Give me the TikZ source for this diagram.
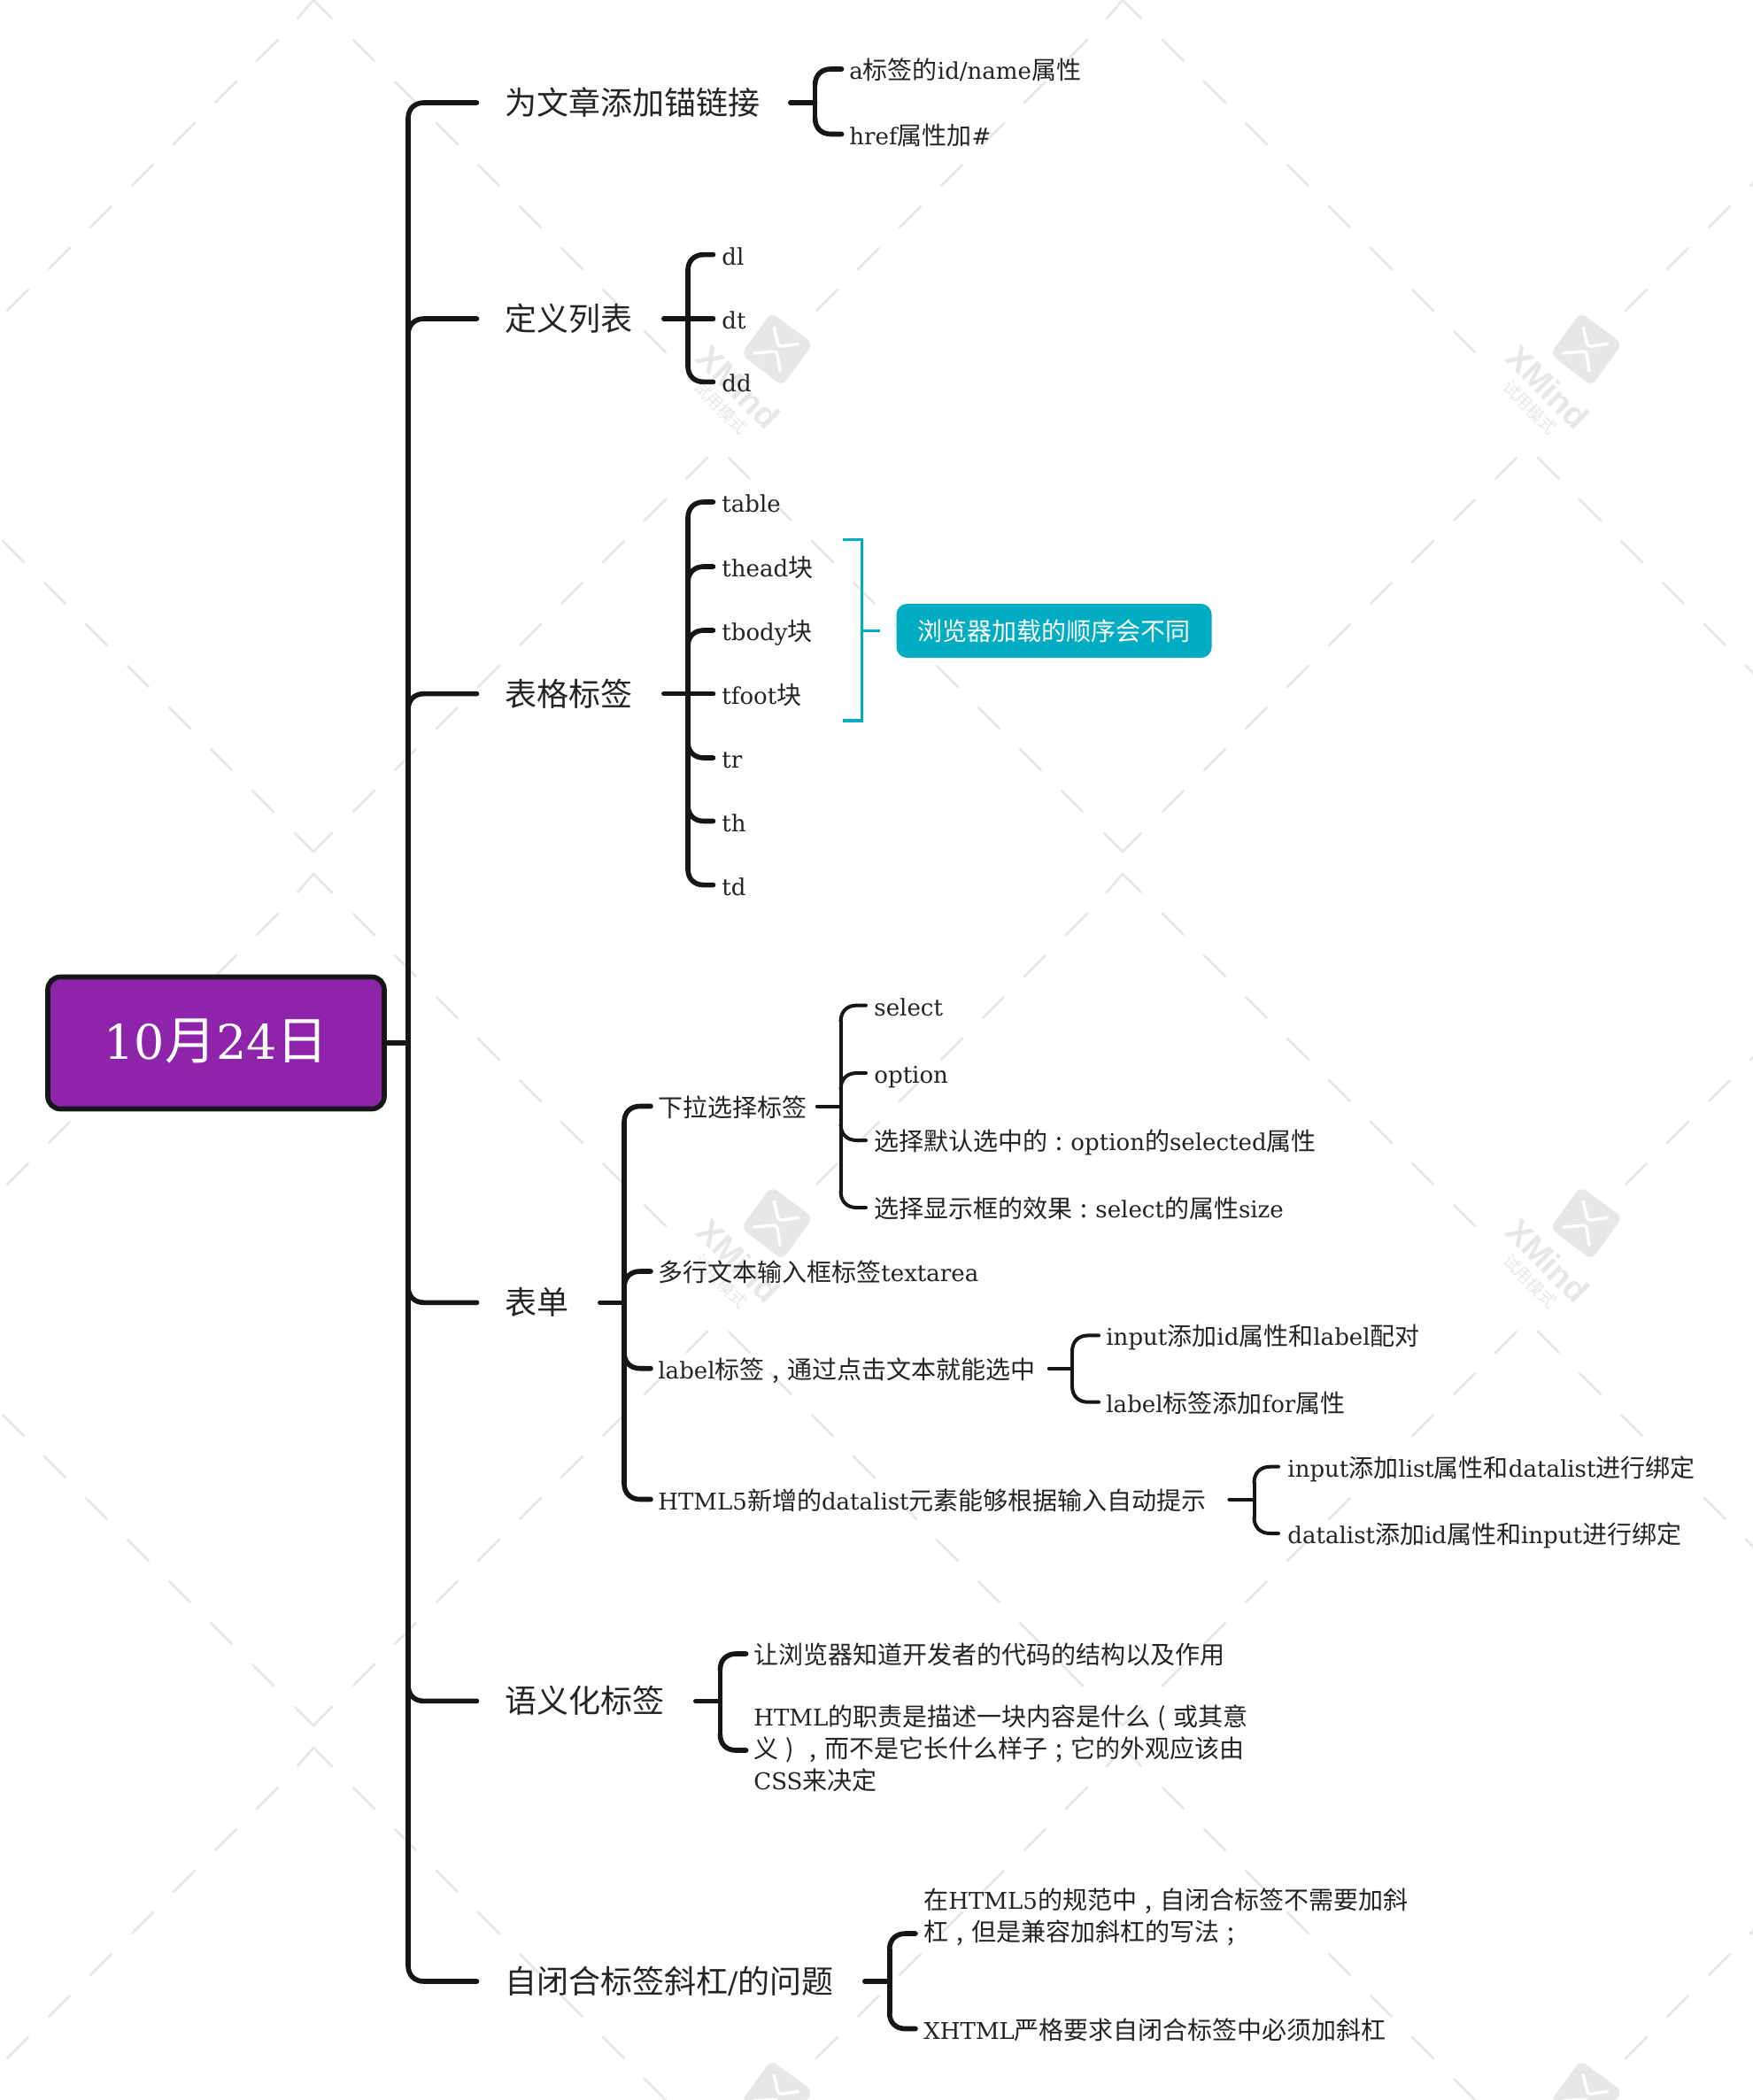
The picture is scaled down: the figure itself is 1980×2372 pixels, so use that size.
\documentclass[tikz,border=0pt]{standalone}
\usepackage{fontspec}
\usetikzlibrary{calc}
\setmainfont{DejaVu Serif}[Scale=0.93]
\newfontfamily\cjf{Noto Sans CJK SC}
\newfontfamily\wmf{Liberation Sans}[Scale=1]
\newcommand\cj[1]{{\cjf #1}}
\newcommand\fw[1]{\makebox[1em][c]{\cjf #1}}
\newcommand\stl{\rule{0pt}{14.5pt}\rule[-3pt]{0pt}{3pt}}
\newcommand\stb{\rule{0pt}{16.5pt}\rule[-3pt]{0pt}{3pt}}
\definecolor{ink}{HTML}{161616}
\definecolor{txt}{HTML}{242424}
\definecolor{wm}{HTML}{E7E7E7}
\definecolor{cyanb}{HTML}{00ACC1}
\definecolor{purp}{HTML}{8E24AA}
\tikzset{
 wmdash/.style={draw=wm,line width=1.35pt,line cap=round},
 lw1/.style={draw=ink,line width=2.8pt,line cap=round},
 lw2/.style={draw=ink,line width=2pt,line cap=round},
 brk/.style={draw=cyanb,line width=1.7pt},
 sm/.style={anchor=west,inner ysep=0pt,text=txt,align=left,font=\fontsize{14}{18}\selectfont,execute at begin node=\stl},
 bg/.style={anchor=west,inner ysep=0pt,text=txt,align=left,font=\fontsize{18}{22}\selectfont,execute at begin node=\stb},
 rootbox/.style={draw=ink,fill=purp,line width=2.8pt,rounded corners=7pt,minimum width=190pt,minimum height=74.5pt,inner sep=0pt,text=white,font=\fontsize{29}{34}\selectfont},
 notebox/.style={fill=cyanb,rounded corners=6pt,minimum width=178pt,minimum height=30.5pt,inner sep=0pt,text=white,font=\fontsize{14}{18}\selectfont},
}
% child with text only: style, name, line end x, text x, y, text
\newcommand\leaf[6]{\pgfmathsetlengthmacro\gp{(#4-#3)*0.5}%
 \node[#1,inner xsep=\gp] (#2) at (#3,#5) {#6};}
% child that has its own children: style, name, line end x, text x, line start x, y, text
\newcommand\pnode[7]{\pgfmathsetlengthmacro\gp{(#4-#3)*0.5}%
 \pgfmathsetlengthmacro\pw{(#5-#3)*0.5-(#4-#3)}%
 \node[#1,inner xsep=\gp] (#2) at (#3,#6) {\makebox[\pw][l]{#7}};}
% curved link: style, spine, child, sign
\newcommand\conn[4]{\draw[#1] let \p1=(#2),\p2=(#3.west) in
 (\x1,{\y2+(#4)*9pt}) .. controls (\x1,{\y2+(#4)*3.5pt}) and ({\x1+3.5pt},\y2) .. ({\x1+9pt},\y2) -- (#3.west);}
\newcommand\spn[4]{\draw[#1] let \p1=(#2),\p2=(#3.west),\p3=(#4.west) in (\x1,{\y2-9pt}) -- (\x1,{\y3+9pt});}
\newcommand\wmlogo{%
   \fill[wm,rounded corners=4pt] (517,353)--(564.5,388)--(529.5,436)--(483,400)--cycle;
   \draw[white,line width=1.7pt,line cap=round,rounded corners=2pt] (520.3,370)--(525.3,391.7)--(547.7,388.3);
   \draw[white,line width=1.7pt,line cap=round,rounded corners=2pt] (497.7,399)--(523.7,396.7)--(527,419.3);}
\begin{document}
\begin{tikzpicture}[x=0.5pt,y=-0.5pt]
\useasboundingbox (0,0) rectangle (1980,2372);
\fill[white] (0,0) rectangle (1980,2372);
\begin{scope}
\clip (0,0) rectangle (1980,2372);
\foreach \ox in {-560,354,1268,2182}{\foreach \oy in {0,987,1974}{
  \draw[wmdash] (\ox-18,\oy+21)--(\ox,\oy)--(\ox+21,\oy+21);
  \draw[wmdash] (\ox-21,\oy+941)--(\ox,\oy+962)--(\ox+21,\oy+941);
  \foreach \k in {1,...,8}{\draw[wmdash] ({\ox+47*\k-2},{\oy+47*\k-2})--({\ox+47*\k+22},{\oy+47*\k+22});}
  \foreach \k in {1,...,7}{\draw[wmdash] ({\ox-47*\k+5+2},{\oy+47*\k-2})--({\ox-47*\k+5-22},{\oy+47*\k+22});}
  \foreach \k in {1,...,9}{
    \draw[wmdash] ({\ox+47*\k-2},{\oy+962-47*\k+2})--({\ox+47*\k+22},{\oy+962-47*\k-22});
    \draw[wmdash] ({\ox-47*\k+2},{\oy+962-47*\k+2})--({\ox-47*\k-22},{\oy+962-47*\k-22});}
}}
\foreach \ox in {354,1268}{
  \foreach \oy in {0,987}{
  \begin{scope}[shift={(\ox,\oy)}]
   \wmlogo
   \node[rotate=-45,text=wm,inner sep=0pt,font=\fontsize{19}{19}\selectfont\wmf\bfseries] at (480,437) {XMind};
   \node[rotate=-45,text=wm,inner sep=0pt,font=\fontsize{9.5}{10}\selectfont\cjf] at (460,460) {试用模式};
  \end{scope}}
  \begin{scope}[shift={(\ox,1974)}]
   \wmlogo
  \end{scope}
}
\end{scope}

\node[rootbox] (root) at (244,1178) {\rule{0pt}{29pt}\rule[-10.5pt]{0pt}{10.5pt}10\cj{月}24\cj{日}};
\coordinate (s0) at (461,1178);

\pnode{bg}{m1}{538.5}{570}{892}{116}{\cj{为文章添加锚链接}}
\pnode{bg}{m2}{538.5}{570}{749}{360}{\cj{定义列表}}
\pnode{bg}{m3}{538.5}{570}{749}{783.6}{\cj{表格标签}}
\pnode{bg}{m4}{538.5}{570}{677}{1471.3}{\cj{表单}}
\pnode{bg}{m5}{538.5}{570}{785}{1921.4}{\cj{语义化标签}}
\pnode{bg}{m6}{538.5}{570}{976}{2238}{\cj{自闭合标签斜杠}/\cj{的问题}}

\coordinate (s1) at (920.6,116);
\leaf{sm}{a1}{950.6}{959}{78}{a\cj{标签的}id/name\cj{属性}}
\leaf{sm}{a2}{950.6}{959}{151.5}{href\cj{属性加}\#}

\coordinate (s2) at (777,360);
\leaf{sm}{b1}{805.5}{815}{287.6}{dl}
\leaf{sm}{b2}{805.5}{815}{360}{dt}
\leaf{sm}{b3}{805.5}{815}{431.4}{dd}

\coordinate (s3) at (777,783.6);
\leaf{sm}{c1}{805.5}{815}{567}{table}
\leaf{sm}{c2}{805.5}{815}{640}{thead\cj{块}}
\leaf{sm}{c3}{805.5}{815}{712}{tbody\cj{块}}
\leaf{sm}{c4}{805.5}{815}{783.6}{tfoot\cj{块}}
\leaf{sm}{c5}{805.5}{815}{856}{tr}
\leaf{sm}{c6}{805.5}{815}{927.5}{th}
\leaf{sm}{c7}{805.5}{815}{999.6}{td}

\node[notebox] (note) at (1190.5,712.5) {\cj{浏览器加载的顺序会不同}};
\coordinate (bk1) at (951.6,609.5);
\coordinate (bk2) at (973.7,609.5);
\coordinate (bk3) at (973.7,814);
\coordinate (bk4) at (951.6,814);
\coordinate (bkm) at (973.7,712.5);
\draw[brk] (bk1) -- (bk2) -- (bk3) -- (bk4);
\draw[brk,shorten >=9pt] (bkm) -- (note.west);

\coordinate (s4) at (705,1471.3);
\pnode{sm}{d1}{735}{743}{922}{1249.5}{\cj{下拉选择标签}}
\leaf{sm}{d2}{735}{743}{1436}{\cj{多行文本输入框标签}textarea}
\pnode{sm}{d3}{735}{743}{1184}{1545.7}{label\cj{标签}\fw{,}\cj{通过点击文本就能选中}}
\pnode{sm}{d4}{735}{743}{1387.6}{1693.5}{HTML5\cj{新增的}datalist\cj{元素能够根据输入自动提示}}

\coordinate (s41) at (949.6,1249.5);
\leaf{sm}{e1}{978}{987}{1135.6}{select}
\leaf{sm}{e2}{978}{987}{1212}{option}
\leaf{sm}{e3}{978}{987}{1288}{\cj{选择默认选中的}\fw{:}option\cj{的}selected\cj{属性}}
\leaf{sm}{e4}{978}{987}{1364}{\cj{选择显示框的效果}\fw{:}select\cj{的属性}size}

\coordinate (s43) at (1211,1545.7);
\leaf{sm}{f1}{1241}{1249}{1508.4}{input\cj{添加}id\cj{属性和}label\cj{配对}}
\leaf{sm}{f2}{1241}{1249}{1583.7}{label\cj{标签添加}for\cj{属性}}

\coordinate (s44) at (1416.5,1693.5);
\leaf{sm}{g1}{1444}{1454}{1656.7}{input\cj{添加}list\cj{属性和}datalist\cj{进行绑定}}
\leaf{sm}{g2}{1444}{1454}{1732}{datalist\cj{添加}id\cj{属性和}input\cj{进行绑定}}

\coordinate (s5) at (813.4,1921.4);
\leaf{sm}{h1}{842.7}{851}{1868}{\cj{让浏览器知道开发者的代码的结构以及作用}}
\leaf{sm}{h2}{842.7}{851}{1977}{HTML\cj{的职责是描述一块内容是什么}\fw{(}\cj{或其意}\\\stl\cj{义}\fw{)}\fw{,}\cj{而不是它长什么样子}\fw{;}\cj{它的外观应该由}\\\stl CSS\cj{来决定}}

\coordinate (s6) at (1004.7,2238);
\leaf{sm}{k1}{1034}{1043}{2184}{\cj{在}HTML5\cj{的规范中}\fw{,}\cj{自闭合标签不需要加斜}\\\stl\cj{杠}\fw{,}\cj{但是兼容加斜杠的写法}\fw{;}\\\stl}
\leaf{sm}{k2}{1034}{1043}{2291.5}{XHTML\cj{严格要求自闭合标签中必须加斜杠}}

% level 1
\draw[lw1] (root.east) -- (s0);
\spn{lw1}{s0}{m1}{m6}
\conn{lw1}{s0}{m1}{-1}
\conn{lw1}{s0}{m2}{-1}
\conn{lw1}{s0}{m3}{-1}
\conn{lw1}{s0}{m4}{1}
\conn{lw1}{s0}{m5}{1}
\conn{lw1}{s0}{m6}{1}
% level 2
\draw[lw1] (m1.east) -- (s1);
\spn{lw1}{s1}{a1}{a2}
\conn{lw1}{s1}{a1}{-1}
\conn{lw1}{s1}{a2}{1}

\draw[lw1] (m2.east) -- (b2.west);
\spn{lw1}{s2}{b1}{b3}
\conn{lw1}{s2}{b1}{-1}
\conn{lw1}{s2}{b3}{1}

\draw[lw1] (m3.east) -- (c4.west);
\spn{lw1}{s3}{c1}{c7}
\conn{lw1}{s3}{c1}{-1}
\conn{lw1}{s3}{c2}{-1}
\conn{lw1}{s3}{c3}{-1}
\conn{lw1}{s3}{c5}{1}
\conn{lw1}{s3}{c6}{1}
\conn{lw1}{s3}{c7}{1}

\draw[lw1] (m4.east) -- (s4);
\spn{lw1}{s4}{d1}{d4}
\conn{lw1}{s4}{d1}{-1}
\conn{lw1}{s4}{d2}{-1}
\conn{lw1}{s4}{d3}{1}
\conn{lw1}{s4}{d4}{1}

\draw[lw1] (m5.east) -- (s5);
\spn{lw1}{s5}{h1}{h2}
\conn{lw1}{s5}{h1}{-1}
\conn{lw1}{s5}{h2}{1}

\draw[lw1] (m6.east) -- (s6);
\spn{lw1}{s6}{k1}{k2}
\conn{lw1}{s6}{k1}{-1}
\conn{lw1}{s6}{k2}{1}
% level 3
\draw[lw2] (d1.east) -- (s41);
\spn{lw2}{s41}{e1}{e4}
\conn{lw2}{s41}{e1}{-1}
\conn{lw2}{s41}{e2}{-1}
\conn{lw2}{s41}{e3}{1}
\conn{lw2}{s41}{e4}{1}

\draw[lw2] (d3.east) -- (s43);
\spn{lw2}{s43}{f1}{f2}
\conn{lw2}{s43}{f1}{-1}
\conn{lw2}{s43}{f2}{1}

\draw[lw2] (d4.east) -- (s44);
\spn{lw2}{s44}{g1}{g2}
\conn{lw2}{s44}{g1}{-1}
\conn{lw2}{s44}{g2}{1}
\end{tikzpicture}
\end{document}
